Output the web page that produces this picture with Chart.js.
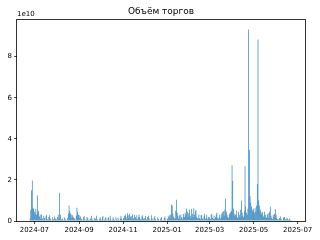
<!DOCTYPE html>
<html>
<head>
<meta charset="utf-8">
<script src="https://cdn.jsdelivr.net/npm/chart.js@4.4.1/dist/chart.umd.min.js"></script>
<style>
  html, body { margin: 0; padding: 0; background: #fff; }
  #wrap { width: 320px; height: 240px; }
</style>
</head>
<body>
<div id="wrap"><canvas id="volChart" width="320" height="240"></canvas></div>
<script>
// daily trading volume, units of 1e10, starting 2024-06-25
var startDate = '2024-06-25';
var volJun24 = [0.12, 0.55, 1.5, 1.97, 0.65, 0.6];
var volJul24 = [0.45, 0.35, 0.6, 0.3, 1.24, 0.4, 0.5, 0.22, 0.3, 0.1, 0.32, 0.12, 0.06, 0.25, 0.15, 0.05, 0.22, 0.3, 0.08, 0.05, 0.2, 0.28, 0.12, 0.06, 0.04, 0.18, 0.05, 0.1, 0.22, 0.12, 0.05];
var volAug24 = [0.08, 0.2, 0.3, 0.12, 1.37, 0.3, 0.1, 0.05, 0.12, 0.04, 0.06, 0.18, 0.08, 0.05, 0.04, 0.15, 0.35, 0.75, 0.5, 0.38, 0.3, 0.15, 0.28, 0.2, 0.08, 0.15, 0.06, 0.25, 0.64, 0.45, 0.3];
var volSep24 = [0.28, 0.15, 0.22, 0.1, 0.06, 0.04, 0.18, 0.24, 0.08, 0.04, 0.06, 0.2, 0.15, 0.05, 0.08, 0.03, 0.12, 0.25, 0.1, 0.05, 0.04, 0.15, 0.06, 0.12, 0.26, 0.08, 0.05, 0.03, 0.08, 0.18];
var volOct24 = [0.1, 0.05, 0.18, 0.24, 0.04, 0.06, 0.12, 0.2, 0.06, 0.03, 0.15, 0.18, 0.05, 0.25, 0.1, 0.04, 0.06, 0.18, 0.1, 0.05, 0.03, 0.2, 0.1, 0.05, 0.16, 0.06, 0.04, 0.12, 0.24, 0.12, 0.05];
var volNov24 = [0.08, 0.15, 0.25, 0.32, 0.2, 0.1, 0.38, 0.28, 0.15, 0.35, 0.22, 0.1, 0.24, 0.33, 0.15, 0.08, 0.3, 0.2, 0.1, 0.28, 0.08, 0.18, 0.32, 0.2, 0.08, 0.06, 0.22, 0.28, 0.12, 0.06];
var volDec24 = [0.15, 0.24, 0.08, 0.05, 0.2, 0.26, 0.12, 0.06, 0.04, 0.28, 0.15, 0.06, 0.04, 0.16, 0.24, 0.08, 0.03, 0.06, 0.18, 0.1, 0.04, 0.03, 0.12, 0.2, 0.06, 0.03, 0.05, 0.14, 0.22, 0.06, 0.04];
var volJan25 = [0.12, 0.08, 0.22, 0.28, 0.12, 0.3, 0.8, 0.75, 0.35, 0.2, 0.15, 0.1, 0.5, 1.04, 0.4, 0.25, 0.12, 0.28, 0.1, 0.32, 0.18, 0.08, 0.2, 0.35, 0.2, 0.4, 0.3, 0.6, 0.45, 0.2, 0.38];
var volFeb25 = [0.55, 0.25, 0.15, 0.58, 0.35, 0.2, 0.62, 0.3, 0.48, 0.55, 0.2, 0.15, 0.1, 0.32, 0.15, 0.08, 0.28, 0.3, 0.12, 0.06, 0.22, 0.35, 0.1, 0.15, 0.3, 0.08, 0.2, 0.12];
var volMar25 = [0.18, 0.08, 0.3, 0.35, 0.15, 0.1, 0.25, 0.08, 0.2, 0.32, 0.4, 0.15, 0.08, 0.18, 0.3, 0.12, 0.35, 0.2, 0.42, 0.48, 0.25, 0.55, 1.1, 0.45, 0.3, 0.2, 0.15, 0.32, 0.38, 0.42, 0.5];
var volApr25 = [2.71, 1.95, 0.6, 0.35, 0.25, 0.3, 0.5, 0.2, 0.15, 0.45, 0.3, 0.2, 0.55, 1.0, 0.4, 0.25, 0.2, 0.5, 2.66, 0.7, 0.4, 0.3, 0.6, 9.32, 3.47, 1.2, 0.9, 0.7, 0.55, 0.45];
var volMay25 = [0.6, 0.4, 0.65, 0.45, 0.75, 1.8, 8.84, 1.0, 0.75, 0.55, 0.45, 0.35, 0.42, 0.25, 0.2, 0.45, 0.3, 0.2, 0.15, 0.32, 0.38, 0.15, 0.45, 0.69, 0.25, 0.15, 0.1, 0.3, 0.2, 0.35, 0.57];
var volJun25 = [0.3, 0.15, 0.1, 0.08, 0.05, 0.15, 0.22, 0.1, 0.06, 0.04, 0.15, 0.2, 0.18, 0.08, 0.05, 0.16, 0.12, 0.05, 0.08, 0.12, 0.05, 0.04, 0.03];

var tickLabels = ['2024-07', '2024-09', '2024-11', '2025-01', '2025-03', '2025-05', '2025-07'];
var yTicks = [0, 2, 4, 6, 8];

var volumes = [].concat(volJun24, volJul24, volAug24, volSep24, volOct24, volNov24,
  volDec24, volJan25, volFeb25, volMar25, volApr25, volMay25, volJun25);

var DAY = 86400000;
var origin = Date.UTC(2024, 6, 1);
function dayOf(s) {
  var p = s.split('-');
  return (Date.UTC(+p[0], +p[1] - 1, +(p[2] || 1)) - origin) / DAY;
}
var startDay = dayOf(startDate);

var points = [];
for (var i = 0; i < volumes.length; i++) {
  points.push({ x: startDay + i, y: volumes[i] });
}
var xTickDays = tickLabels.map(dayOf);

// matplotlib-like margins (5%)
var span = (points[points.length - 1].x - points[0].x);
var xMin = points[0].x - span * 0.05;
var xMax = points[points.length - 1].x + span * 0.05;
var yMax = Math.max.apply(null, volumes) * 1.05;

var font = "'DejaVu Sans', sans-serif";

var framePlugin = {
  id: 'frame',
  afterDraw: function(chart) {
    var c = chart.ctx, a = chart.chartArea;
    c.save();
    c.strokeStyle = 'rgba(0,0,0,0.8)';
    c.lineWidth = 1;
    c.strokeRect(Math.round(a.left) - 0.5, Math.round(a.top) - 0.5,
      Math.round(a.right - a.left) + 1, Math.round(a.bottom - a.top) + 1);
    c.fillStyle = '#000';
    c.font = '9px ' + font;
    c.textAlign = 'center';
    c.textBaseline = 'middle';
    c.fillText('Объём торгов', (a.left + a.right) / 2, 12);
    c.font = '7px ' + font;
    c.textAlign = 'left';
    c.fillText('1e10', a.left, 14.5);
    c.restore();
  }
};

new Chart(document.getElementById('volChart').getContext('2d'), {
  type: 'bar',
  data: {
    datasets: [{
      label: 'Объём торгов',
      data: points,
      backgroundColor: '#1f77b4',
      borderWidth: 0,
      barPercentage: 0.9,
      categoryPercentage: 1.0
    }]
  },
  options: {
    responsive: false,
    animation: false,
    devicePixelRatio: 1,
    layout: { padding: { top: 20, right: 15, left: 0, bottom: 0 } },
    plugins: { legend: { display: false }, tooltip: { enabled: false }, title: { display: false } },
    scales: {
      x: {
        type: 'linear',
        min: xMin,
        max: xMax,
        offset: false,
        grid: { display: true, drawOnChartArea: false, drawTicks: true, tickLength: 3, color: 'rgba(0,0,0,0.7)', offset: false },
        border: { display: false },
        afterBuildTicks: function(scale) {
          scale.ticks = xTickDays.map(function(v) { return { value: v }; });
        },
        ticks: {
          autoSkip: false,
          maxRotation: 0,
          padding: 2,
          color: '#000',
          font: { family: font, size: 7 },
          callback: function(v) {
            var k = xTickDays.indexOf(v);
            return k >= 0 ? tickLabels[k] : '';
          }
        },
        afterFit: function(scale) { scale.height = 19; }
      },
      y: {
        min: 0,
        max: yMax,
        grid: { display: true, drawOnChartArea: false, drawTicks: true, tickLength: 3, color: 'rgba(0,0,0,0.7)' },
        border: { display: false },
        afterBuildTicks: function(scale) {
          scale.ticks = yTicks.map(function(v) { return { value: v }; });
        },
        ticks: {
          padding: 2,
          color: '#000',
          font: { family: font, size: 7 },
          callback: function(v) { return String(v); }
        },
        afterFit: function(scale) { scale.width = 17; }
      }
    }
  },
  plugins: [framePlugin]
});
</script>
</body>
</html>
